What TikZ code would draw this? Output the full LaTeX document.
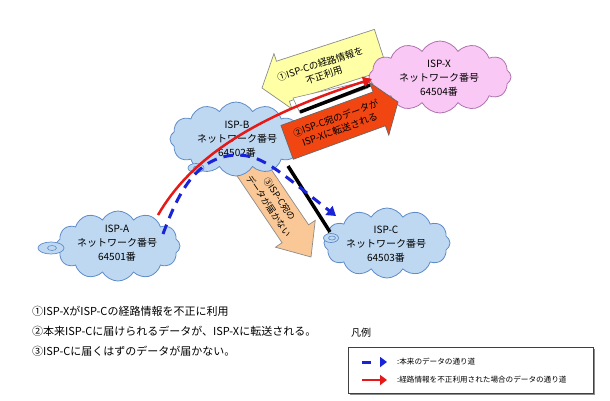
\documentclass[tikz,border=0pt]{standalone}
\usepackage{fontspec}
\setmainfont{Noto Sans CJK JP}
\usetikzlibrary{shapes.symbols,shapes.geometric,arrows.meta}
\definecolor{cloudblue}{RGB}{190,216,242}
\definecolor{cloudblueedge}{RGB}{95,140,200}
\definecolor{cloudpink}{RGB}{250,200,245}
\definecolor{cloudpinkedge}{RGB}{175,115,175}
\definecolor{yellowfill}{RGB}{255,255,165}
\definecolor{orangered}{RGB}{242,70,18}
\definecolor{peach}{RGB}{250,200,150}
\definecolor{pathblue}{RGB}{25,35,215}
\definecolor{pathred}{RGB}{230,25,25}
\definecolor{edgegray}{RGB}{140,140,140}
\begin{document}
\begin{tikzpicture}[x=1pt,y=-1pt,
  ispcloud/.style={cloud, cloud puffs=12, cloud puff arc=120, cloud ignores aspect,
    draw=cloudblueedge, fill=cloudblue, line width=0.8pt, inner sep=0pt},
  pinkcloud/.style={ispcloud, draw=cloudpinkedge, fill=cloudpink},
  cloudtext/.style={align=center, font=\fontsize{10}{14}\selectfont, inner sep=0pt},
  bubble/.style={ellipse, draw=cloudblueedge, fill=cloudblue, line width=0.7pt, inner sep=0pt},
  swirl/.style={ellipse, draw=cloudblueedge, line width=0.6pt, inner sep=0pt},
  blockarrow/.style={draw=edgegray, line width=0.7pt, line join=miter},
  arrowtext/.style={align=center, font=\fontsize{9.5}{12}\selectfont, inner sep=0pt},
  thickblack/.style={line width=3.5pt, black},
  bluepath/.style={line width=3pt, pathblue, dash pattern=on 10pt off 7pt,
    -{Triangle[length=9pt,width=11pt]}},
  redpath/.style={line width=2.5pt, pathred, -{Triangle[length=9pt,width=10pt]}},
  notetext/.style={anchor=west, font=\fontsize{11}{13}\selectfont, inner sep=0pt},
  legendtext/.style={anchor=west, font=\fontsize{7.6}{9}\selectfont, inner sep=0pt}
]
\useasboundingbox[fill=white] (0,0) rectangle (610,400);

% (1) yellow block arrow (behind ISP-X)
\begin{scope}[shift={(262,88)}, rotate=18]
  \draw[blockarrow, fill=yellowfill] (0,0) -- (22,-29) -- (22,-21) -- (125,-21)
     -- (125,21) -- (22,21) -- (22,29) -- cycle;
  \node[arrowtext, rotate=18] (t1) at (63,1) {①ISP-Cの経路情報を\\不正利用};
\end{scope}

% (3) peach block arrow (behind ISP-B)
\begin{scope}[shift={(311,257)}, rotate=124]
  \draw[blockarrow, fill=peach] (0,0) -- (28,-24) -- (28,-16) -- (110,-16)
     -- (110,16) -- (28,16) -- (28,24) -- cycle;
  \node[arrowtext, font=\fontsize{9}{13}\selectfont, rotate=-56] (t3) at (66,0) {③ISP-C宛の\\データが届かない};
\end{scope}

% clouds
\node[ispcloud, minimum width=124pt, minimum height=70pt] (A) at (118,246) {};
\node[ispcloud, minimum width=132pt, minimum height=74pt] (B) at (236,139) {};
\node[ispcloud, minimum width=126pt, minimum height=70pt] (C) at (387,243) {};
\node[pinkcloud, minimum width=142pt, minimum height=72pt] (X) at (440,77) {};

% small bubbles
\node[bubble, minimum width=26pt, minimum height=12pt] (Ab) at (51,248) {};
\node[swirl, minimum width=9pt, minimum height=5pt] (Abs) at (52,248) {};
\node[bubble, minimum width=16pt, minimum height=9pt] (Bb) at (196,168) {};
\node[swirl, minimum width=7pt, minimum height=4pt] (Bbs) at (197,168) {};
\node[bubble, minimum width=15pt, minimum height=9pt] (Cb) at (331,238) {};
\node[swirl, minimum width=7pt, minimum height=4pt] (Cbs) at (332,238) {};

% cloud texts
\node[cloudtext] (At) at (117,243) {ISP-A\\ネットワーク番号\\64501番};
\node[cloudtext] (Bt) at (237,139) {ISP-B\\ネットワーク番号\\64502番};
\node[cloudtext] (Ct) at (386,244) {ISP-C\\ネットワーク番号\\64503番};
\node[cloudtext] (Xt) at (439,78) {ISP-X\\ネットワーク番号\\64504番};

% white strip under yellow arrow
\draw[draw=edgegray, fill=white, line width=0.6pt] (293,98) -- (362,82) -- (368,88) -- (300,113) -- cycle;

% (2) red block arrow
\begin{scope}[shift={(398,102)}, rotate=200]
  \draw[blockarrow, draw=black!60, fill=orangered] (0,0) -- (20,-28) -- (20,-18) -- (118,-18)
     -- (118,18) -- (20,18) -- (20,28) -- cycle;
  \node[arrowtext, rotate=20] (t2) at (64,0) {②ISP-C宛のデータが\\ISP-Xに転送される};
\end{scope}

% connector coordinates
\coordinate (bx1) at (300,112);
\coordinate (bx2) at (370,85);
\coordinate (bc1) at (288,166);
\coordinate (bc2) at (330,232);
\coordinate (r1) at (158,215);
\coordinate (r2) at (372,79);
\coordinate (b1) at (163,234);
\coordinate (b2) at (236,155);
\coordinate (b3) at (336,216);

% black links
\draw[thickblack] (bx1) -- (bx2);
\draw[thickblack] (bc1) -- (bc2);

% blue dashed path
\draw[bluepath] (b1) .. controls (180,188) and (198,157) .. (b2)
   .. controls (262,155) and (275,168) .. (b3);

% red path
\draw[redpath] (r1) .. controls (190,160) and (250,118) .. (r2);

% notes
\node[notetext] (n1) at (32,311) {①ISP-XがISP-Cの経路情報を不正に利用};
\node[notetext] (n2) at (32,331) {②本来ISP-Cに届けられるデータが、ISP-Xに転送される。};
\node[notetext] (n3) at (32,351) {③ISP-Cに届くはずのデータが届かない。};

% legend
\node[anchor=west, font=\fontsize{10}{12}\selectfont, inner sep=0pt] (lg) at (351,333) {凡例};
\fill[black!45] (350,349) rectangle (595,395);
\filldraw[line width=0.6pt, draw=black!75, fill=white] (348,347) rectangle (593,393);
\coordinate (lb1) at (362,362);
\coordinate (lb2) at (387,362);
\coordinate (lr1) at (362,380);
\coordinate (lr2) at (387,380);
\draw[line width=3pt, pathblue, dash pattern=on 9pt off 20pt, -{Triangle[length=7pt,width=10pt]}] (lb1) -- (lb2);
\draw[line width=2.5pt, pathred, -{Triangle[length=7pt,width=10pt]}] (lr1) -- (lr2);
\node[legendtext] (l1) at (397,362) {:本来のデータの通り道};
\node[legendtext] (l2) at (397,380) {:経路情報を不正利用された場合のデータの通り道};
\end{tikzpicture}
\end{document}
